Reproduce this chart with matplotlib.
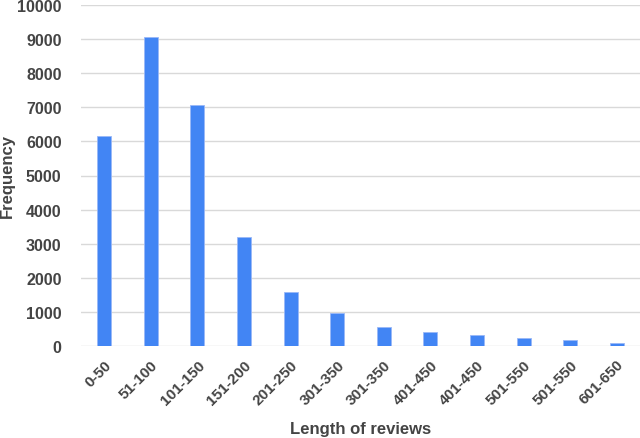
import matplotlib
matplotlib.use("Agg")
from matplotlib import pyplot as plt
import numpy as np

categories = ["0-50", "51-100", "101-150", "151-200", "201-250", "301-350",
              "301-350", "401-450", "401-450", "501-550", "501-550", "601-650"]
frequency = [6160, 9060, 7070, 3200, 1570, 980, 565, 400, 315, 225, 175, 95]

plt.rcParams["font.family"] = ["Liberation Sans", "DejaVu Sans"]
plt.rcParams["font.weight"] = "bold"

fig = plt.figure(figsize=(6.4, 4.39), dpi=100)
ax = fig.add_axes([81 / 640, 1 - 347 / 439, 559 / 640, 341 / 439])

x = np.arange(len(categories))
ax.bar(x, frequency, width=0.3, color="#4285F4", edgecolor="#9ab8f7", linewidth=0.6, zorder=3)

ax.set_xlim(-0.5, 11.5)
ax.set_ylim(0, 10000)
ax.set_yticks(np.arange(0, 10001, 1000))
ax.grid(axis="y", color="#d9d9d9", linewidth=1, zorder=0)
for s in ax.spines.values():
    s.set_visible(False)

ax.tick_params(axis="both", length=0, labelcolor="#444444")
ax.tick_params(axis="y", pad=14, labelsize=11.5)
ax.set_xticks(x, categories, rotation=45, ha="right", rotation_mode="anchor")
ax.tick_params(axis="x", pad=8, labelsize=11)

ax.set_xlabel("Length of reviews", fontsize=12, color="#444444", fontweight="bold", va="center")
ax.set_ylabel("Frequency", fontsize=12, color="#444444", fontweight="bold", va="center")
ax.xaxis.set_label_coords(0.5, -0.243)
ax.yaxis.set_label_coords(-0.132, 0.5)

fig.savefig("out.png", dpi=100)
